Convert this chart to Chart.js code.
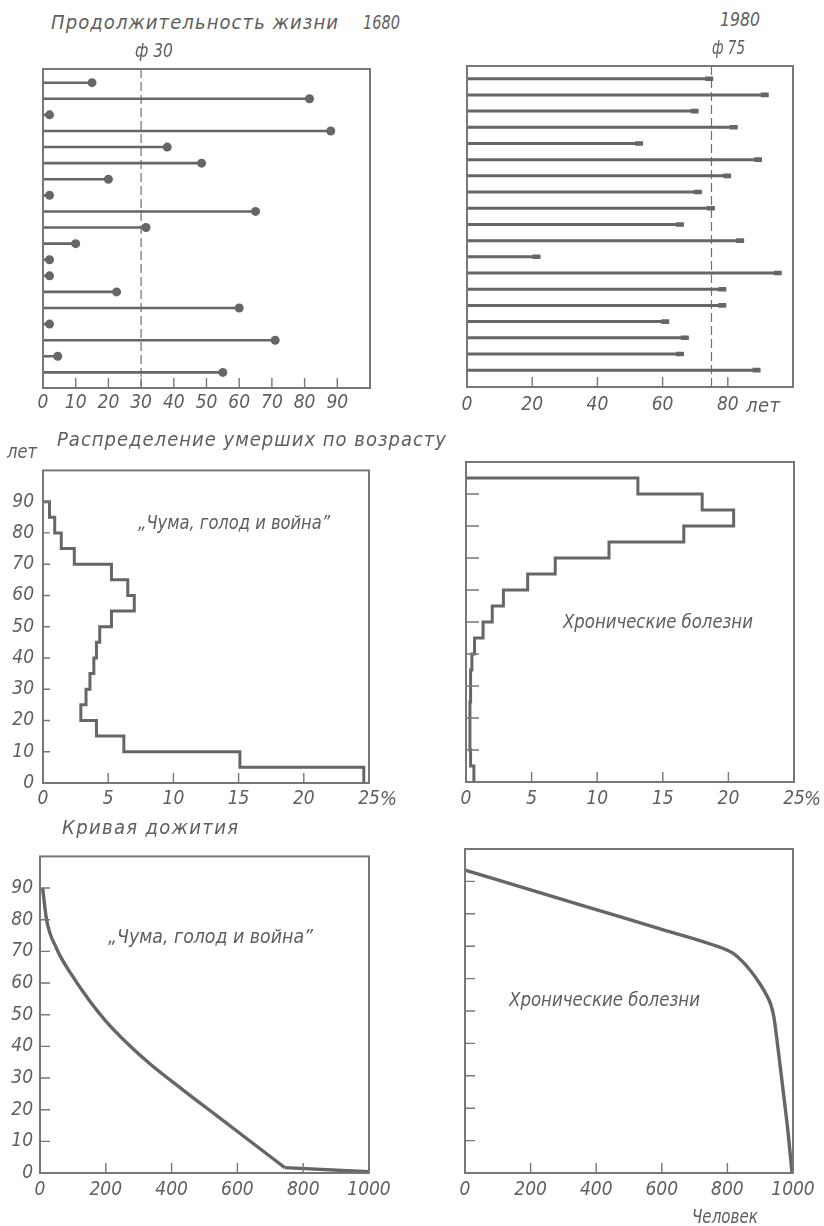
<!DOCTYPE html>
<html lang="ru">
<head>
<meta charset="utf-8">
<title>Продолжительность жизни 1680 и 1980</title>
<script src="https://cdn.jsdelivr.net/npm/chart.js@4.4.1/dist/chart.umd.min.js"></script>
<style>
  html, body { margin: 0; padding: 0; background: #fff; }
  #page { position: relative; width: 824px; height: 1226px; overflow: hidden; }
  #page canvas { position: absolute; }
  .lbl { position: absolute; white-space: nowrap; line-height: 1; font-style: italic; color: #5e5e5e;
         font-family: 'Liberation Sans Narrow', 'DejaVu Sans Condensed', Roboto, sans-serif; font-size: 20px;
         transform-origin: left center; }
</style>
</head>
<body>
<div id="page"></div>
<script>
// возраст смерти 19 человек, строки сверху вниз
const rowNo = [1, 2, 3, 4, 5, 6, 7, 8, 9, 10, 11, 12, 13, 14, 15, 16, 17, 18, 19];
const life1680 = [15, 81.5, 2, 88, 38, 48.5, 20, 2, 65, 31.5, 10, 2, 2, 22.5, 60, 2, 71, 4.5, 55];
const life1980 = [75.5, 92.5, 71, 83, 54, 90.5, 81, 72, 76, 66.5, 85, 22.5, 96.5, 79.5, 79.5, 62, 68, 66.5, 90];
const mean1680 = 30;
const mean1980 = 75;

// распределение умерших по возрасту, % (пятилетние группы, нижняя граница)
const ageGroups = [0, 5, 10, 15, 20, 25, 30, 35, 40, 45, 50, 55, 60, 65, 70, 75, 80, 85, 90];
const dead1680 = [24.6, 15.1, 6.2, 4.1, 2.9, 3.3, 3.6, 3.9, 4.1, 4.35, 5.25, 7.0, 6.5, 5.25, 2.4, 1.4, 0.9, 0.5];
const dead1980 = [0.6, 0.35, 0.3, 0.3, 0.3, 0.35, 0.35, 0.45, 0.65, 1.3, 2.0, 2.85, 4.7, 6.8, 10.9, 16.6, 20.4, 18.0, 13.1];
const groupWidth = 5;

// кривая дожития: человек / лет
const people1680 = [8, 20, 50, 100, 150, 200, 265, 334, 440, 536, 638, 744, 1000];
const surv1680 = [90, 80, 71, 62, 54.5, 48, 41, 34.5, 25.8, 18.2, 10.1, 1.7, 0.4];
const people1980 = [0, 200, 400, 600, 750, 820, 870, 903, 921, 933, 942, 950, 962, 974, 985, 997];
const surv1980 = [93.5, 87.4, 81.3, 75.2, 70.6, 67.6, 62.5, 57.8, 54.6, 51.8, 48, 42, 32, 22, 12.5, 0];
const kink1680 = 11; // индекс излома кривой 1680 г.

// подписи делений
const lifeTicks1680 = ['0', '10', '20', '30', '40', '50', '60', '70', '80', '90'];
const lifeTicks1980 = ['0', '20', '40', '60', '80'];
const pctTicks = ['0', '5', '10', '15', '20', '25'];
const ageTicks = ['0', '10', '20', '30', '40', '50', '60', '70', '80', '90'];
const peopleTicks = ['0', '200', '400', '600', '800', '1000'];

const INK = '#666';
const FRAME = '#777';
const FONT = "'Liberation Sans Narrow', 'DejaVu Sans Condensed', Roboto, sans-serif";
const page = document.getElementById('page');

Chart.defaults.font.family = FONT;
Chart.defaults.font.style = 'italic';
Chart.defaults.font.size = 19;
Chart.defaults.color = '#5e5e5e';
Chart.defaults.animation = false;
Chart.defaults.events = [];
Chart.defaults.plugins.legend.display = false;
Chart.defaults.plugins.tooltip.enabled = false;

// рамка и внутренние засечки
const frame = {
  id: 'frame',
  afterDatasetsDraw(chart, args, o) {
    const { ctx, chartArea: a } = chart;
    const sx = chart.scales.x, sy = chart.scales.y;
    ctx.save();
    ctx.strokeStyle = FRAME;
    ctx.lineWidth = 1.4;
    ctx.beginPath();
    if (o.xTick) sx.ticks.forEach(t => {
      if (t.value <= sx.min || t.value >= sx.max) return;
      const p = sx.getPixelForValue(t.value);
      ctx.moveTo(p, a.bottom); ctx.lineTo(p, a.bottom - o.xTick);
    });
    if (o.yTick) sy.ticks.forEach(t => {
      if (t.value <= sy.min || t.value >= sy.max) return;
      const p = sy.getPixelForValue(t.value);
      ctx.moveTo(a.left, p); ctx.lineTo(a.left + o.yTick, p);
    });
    ctx.stroke();
    ctx.lineWidth = 2;
    ctx.strokeRect(a.left, a.top, a.width, a.height);
    ctx.restore();
  }
};

function axis(min, max, step, labels, pad, reverse) {
  return {
    type: 'linear', min, max, reverse: !!reverse,
    grid: { display: false, drawTicks: false },
    border: { display: false },
    ticks: {
      display: !!labels, stepSize: step, padding: pad || 6, autoSkip: false, maxRotation: 0,
      callback: v => (labels && labels.includes(String(v))) ? String(v) : ''
    }
  };
}

function segments(vals, from) {
  const pts = [];
  vals.forEach((v, i) => pts.push({ x: from(v), y: rowNo[i] }, { x: v, y: rowNo[i] }, { x: null, y: null }));
  return pts;
}

function steps(vals) {
  const n = vals.length;
  const pts = [{ x: 0, y: ageGroups[n - 1] + groupWidth }];
  for (let i = n - 1; i >= 0; i--) {
    pts.push({ x: vals[i], y: ageGroups[i] + groupWidth }, { x: vals[i], y: ageGroups[i] });
  }
  return pts;
}

const xy = (xs, ys) => xs.map((x, i) => ({ x, y: ys[i] }));

const lineDs = (data, width, extra) => Object.assign({
  data, showLine: true, borderColor: INK, borderWidth: width, pointRadius: 0,
  fill: false, spanGaps: false, clip: 4
}, extra || {});

function makeChart(area, cfg) {
  const L = 48, T = 12, R = 34, B = 36;
  const cv = document.createElement('canvas');
  const w = area.right - area.left + L + R, h = area.bottom - area.top + T + B;
  cv.width = w; cv.height = h;
  cv.style.width = w + 'px'; cv.style.height = h + 'px';
  cv.style.left = (area.left - L) + 'px'; cv.style.top = (area.top - T) + 'px';
  page.appendChild(cv);
  cfg.options.responsive = false;
  cfg.options.devicePixelRatio = 1;
  cfg.options.layout = { padding: { top: T, right: R, left: 0, bottom: 0 } };
  cfg.options.scales.x.afterFit = s => { s.height = B; };
  cfg.options.scales.y.afterFit = s => { s.width = L; };
  cfg.plugins = [frame];
  return new Chart(cv, cfg);
}

// 1680: продолжительность жизни
const y1680 = [0.15, 19.97];
makeChart({ left: 43, top: 69, right: 370, bottom: 388 }, {
  type: 'scatter',
  data: { datasets: [
    { data: xy(life1680, rowNo), pointRadius: 4.5, backgroundColor: INK, borderWidth: 0, clip: false },
    lineDs(segments(life1680, () => 0), 2.6),
    lineDs([{ x: mean1680, y: y1680[0] }, { x: mean1680, y: y1680[1] }], 1.2, { borderDash: [9, 4], borderColor: '#707070' })
  ] },
  options: {
    scales: { x: axis(0, 100, 10, lifeTicks1680, 4), y: axis(y1680[0], y1680[1], 1, null, 0, true) },
    plugins: { frame: { xTick: 10 } }
  }
});

// 1980
const y1980 = [0.215, 20.04];
const capLen = 2.4;
makeChart({ left: 467, top: 66, right: 793, bottom: 387 }, {
  type: 'scatter',
  data: { datasets: [
    lineDs(segments(life1980, v => v - capLen), 4.6),
    lineDs(segments(life1980, () => 0), 3),
    lineDs([{ x: mean1980, y: y1980[0] }, { x: mean1980, y: y1980[1] }], 1.2, { borderDash: [9, 4], borderColor: '#707070' })
  ] },
  options: {
    scales: { x: axis(0, 100, 20, lifeTicks1980, 7), y: axis(y1980[0], y1980[1], 1, null, 0, true) },
    plugins: { frame: { xTick: 10 } }
  }
});

// распределение умерших по возрасту
makeChart({ left: 43, top: 462, right: 369, bottom: 783 }, {
  type: 'scatter',
  data: { datasets: [lineDs(steps(dead1680), 3)] },
  options: {
    scales: { x: axis(0, 25, 5, pctTicks, 5), y: axis(0, 100, 10, ageTicks, 9) },
    plugins: { frame: { xTick: 10, yTick: 7 } }
  }
});

makeChart({ left: 466, top: 462, right: 794, bottom: 782 }, {
  type: 'scatter',
  data: { datasets: [lineDs(steps(dead1980), 3)] },
  options: {
    scales: { x: axis(0, 25, 5, pctTicks, 6), y: axis(0, 100, 10, null) },
    plugins: { frame: { xTick: 10, yTick: 13 } }
  }
});

// кривая дожития
makeChart({ left: 40, top: 850, right: 369, bottom: 1173 }, {
  type: 'scatter',
  data: { datasets: [
    lineDs(xy(people1680.slice(0, kink1680 + 1), surv1680.slice(0, kink1680 + 1)), 3.4, { cubicInterpolationMode: 'monotone' }),
    lineDs(xy(people1680.slice(kink1680), surv1680.slice(kink1680)), 3.4)
  ] },
  options: {
    scales: { x: axis(0, 1000, 200, peopleTicks, 6), y: axis(0, 100, 10, ageTicks, 7) },
    plugins: { frame: { xTick: 10, yTick: 10 } }
  }
});

makeChart({ left: 465, top: 849, right: 793, bottom: 1173 }, {
  type: 'scatter',
  data: { datasets: [lineDs(xy(people1980, surv1980), 3.4, { cubicInterpolationMode: 'monotone' })] },
  options: {
    scales: { x: axis(0, 1000, 200, peopleTicks, 6), y: axis(0, 100, 10, null) },
    plugins: { frame: { xTick: 10, yTick: 10 } }
  }
});

// надписи
function place(text, left, right, cy, size) {
  const fs = size || 20;
  const el = document.createElement('div');
  el.className = 'lbl';
  el.style.fontSize = fs + 'px';
  el.textContent = text;
  page.appendChild(el);
  const w = el.getBoundingClientRect().width;
  const target = right - left;
  const n = [...text].length;
  if (w > target) el.style.transform = 'scaleX(' + (target / w).toFixed(3) + ')';
  else if (n > 1) el.style.letterSpacing = ((target - w) / (n - 1)) + 'px';
  el.style.left = left + 'px';
  el.style.top = (cy - 0.55 * fs) + 'px';
}

place('Продолжительность жизни', 51, 338, 23);
place('1680', 363, 400, 23);
place('ф 30', 135, 173, 51);
place('1980', 720, 760, 20);
place('ф 75', 712, 745, 48);
place('лет', 746, 780, 406);
place('лет', 7, 37, 452);
place('Распределение умерших по возрасту', 57, 446, 440);
place('„Чума, голод и война”', 138, 330, 523);
place('Хронические болезни', 563, 753, 622);
place('%', 380, 397, 799);
place('%', 804, 821, 799);
place('Кривая дожития', 62, 238, 828);
place('„Чума, голод и война”', 108, 313, 937);
place('Хронические болезни', 509, 700, 1000);
place('Человек', 692, 758, 1217);
</script>
</body>
</html>
